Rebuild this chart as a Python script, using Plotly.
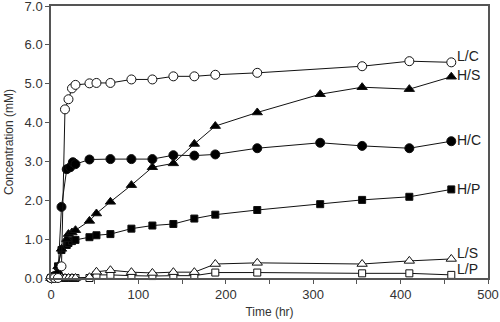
import plotly.graph_objects as go

# --- data ---
t_LC = [0, 4, 8, 12, 16, 20, 24, 28, 44, 52, 68, 92, 116, 140, 164, 188, 236, 356, 410, 458]
LC = [0, 0, 0, 0.3, 4.34, 4.6, 4.88, 4.97, 5.01, 5.02, 5.02, 5.11, 5.11, 5.19, 5.19, 5.23, 5.28, 5.45, 5.58, 5.55]

t_H = [0, 2, 4, 8, 12, 18, 20, 24, 28, 44, 52, 68, 92, 116, 140, 164, 188, 236, 308, 356, 410, 458]
HS = [0, 0, 0.05, 0.3, 0.75, 1.0, 1.13, 1.17, 1.23, 1.47, 1.66, 1.96, 2.39, 2.85, 2.95, 3.45, 3.91, 4.26, 4.73, 4.91, 4.86, 5.18]
HP = [0, 0, 0.05, 0.3, 0.72, 0.85, 0.9, 0.95, 0.98, 1.05, 1.1, 1.13, 1.27, 1.35, 1.39, 1.53, 1.63, 1.75, 1.90, 2.01, 2.09, 2.28]

t_HC = [0, 2, 4, 8, 12, 18, 22, 25, 28, 44, 68, 92, 116, 140, 164, 188, 236, 308, 356, 410, 458]
HC = [0, 0, 0.05, 0.1, 1.83, 2.8, 2.85, 2.98, 2.93, 3.05, 3.06, 3.06, 3.06, 3.16, 3.15, 3.18, 3.34, 3.48, 3.40, 3.34, 3.52]

t_L = [0, 4, 8, 12, 16, 20, 24, 28, 44, 52, 68, 92, 116, 140, 164, 188, 236, 356, 410, 458]
LS = [0, 0, 0, 0, 0, 0, 0, 0, 0.02, 0.16, 0.2, 0.15, 0.13, 0.15, 0.15, 0.36, 0.39, 0.36, 0.44, 0.49]
LP = [0, 0, 0, 0, 0, 0, 0, 0, 0, 0.08, 0.08, 0.06, 0.05, 0.06, 0.06, 0.14, 0.14, 0.12, 0.12, 0.08]

series = [
    ("H/P", t_H, HP, "square", "black", 7),
    ("H/S", t_H, HS, "triangle-up", "black", 9),
    ("H/C", t_HC, HC, "circle", "black", 9),
    ("L/P", t_L, LP, "square", "white", 7),
    ("L/S", t_L, LS, "triangle-up", "white", 9),
    ("L/C", t_LC, LC, "circle", "white", 9),
]

label_y = {"L/C": 5.72, "H/S": 5.22, "H/C": 3.54, "H/P": 2.3, "L/S": 0.64, "L/P": 0.24}

FONT = "Liberation Sans, Arial"

fig = go.Figure()
for name, t, y, sym, fill, sz in series:
    fig.add_trace(go.Scatter(
        x=t, y=y, mode="lines+markers", name=name,
        line=dict(color="#111111", width=1),
        marker=dict(symbol=sym, size=sz, color=fill, line=dict(color="#111111", width=1)),
        showlegend=False, cliponaxis=False,
    ))

for name, yv in label_y.items():
    fig.add_annotation(x=462, y=yv, text=name, showarrow=False, xanchor="left", yanchor="middle",
                       font=dict(family=FONT, size=14, color="#222"))

axis_common = dict(showline=True, linecolor="#555", linewidth=1.5, mirror=True, automargin=False,
                   ticks="outside", ticklen=4, tickcolor="#555", showgrid=False, zeroline=False,
                   ticklabeloverflow="allow",
                   tickfont=dict(family=FONT, size=13, color="#333"))

fig.update_xaxes(range=[0, 500], tickvals=[0, 100, 200, 300, 400, 500],
                 minor=dict(dtick=50, ticks="outside", ticklen=4, tickcolor="#555"),
                 title=dict(text="Time (hr)", font=dict(family=FONT, size=12, color="#333"), standoff=6),
                 **axis_common)
fig.update_yaxes(range=[0, 7], dtick=1, tickformat=".1f",
                 title=dict(text="Concentration (mM)", font=dict(family=FONT, size=12, color="#333"), standoff=8),
                 **axis_common)

fig.update_layout(width=500, height=322, margin=dict(l=51, r=12, t=6, b=44),
                  plot_bgcolor="white", paper_bgcolor="white")

fig.write_html("out.html", config={"displayModeBar": False},
               post_script="document.body.style.margin='0';")
